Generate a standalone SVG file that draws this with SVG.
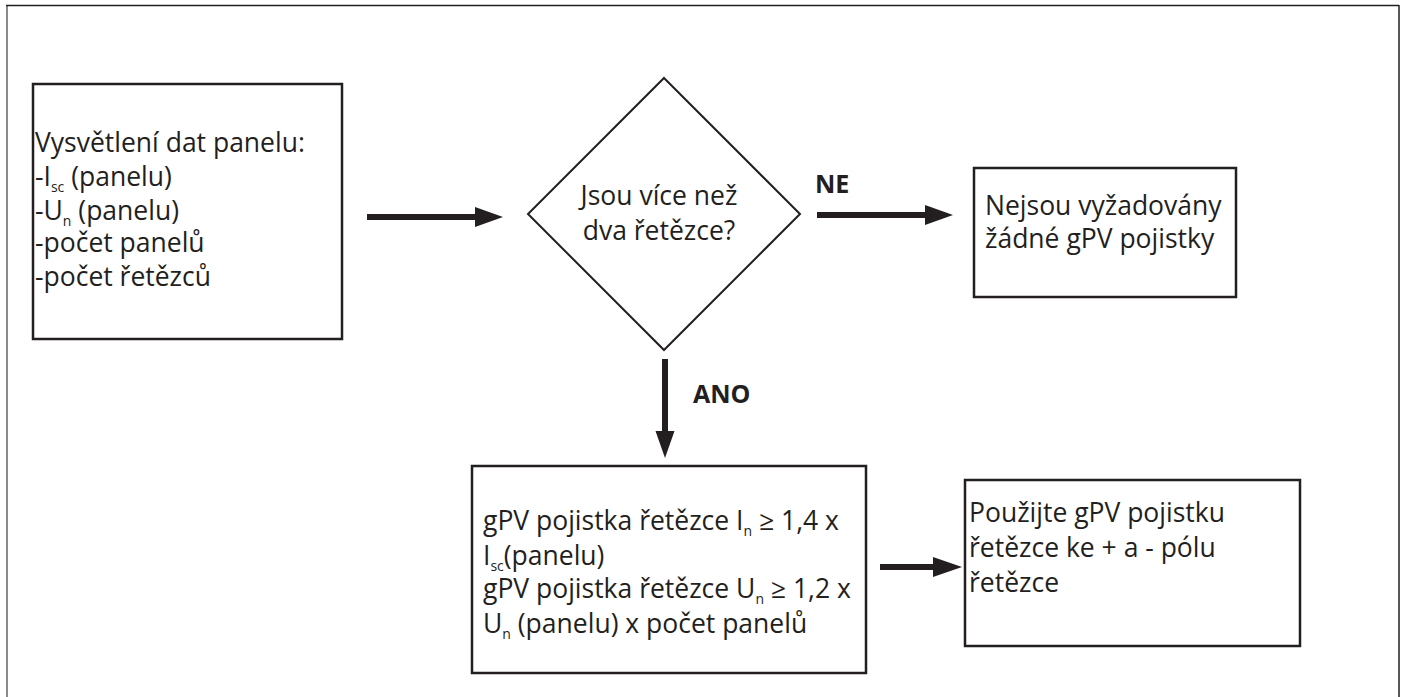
<svg xmlns="http://www.w3.org/2000/svg" width="1401" height="697" viewBox="0 0 1401 697">
<style>
.box{fill:#fff;stroke:#231f20;stroke-width:2.5}
.dia{fill:#fff;stroke:#231f20;stroke-width:2}
.t{font-family:"Open Sans","Noto Sans",sans-serif;font-size:26.5px;fill:#231f20}
.b{font-family:"Open Sans","Noto Sans",sans-serif;font-size:25px;font-weight:bold;fill:#231f20}
.sub{font-size:14px}
.con{stroke:#231f20;stroke-width:6;fill:none}
.head{fill:#231f20}
</style>
<rect width="1401" height="697" fill="#fff"/>
<g id="frame">
<line x1="7" y1="5" x2="7" y2="697" stroke="#8a8a8a" stroke-width="2"/>
<line x1="6" y1="5.5" x2="1399" y2="5.5" stroke="#231f20" stroke-width="1.5"/>
<line x1="1399" y1="5" x2="1399" y2="697" stroke="#231f20" stroke-width="1.5"/>
</g>
<g id="input">
<rect class="box" x="33" y="84" width="309" height="255"/>
<text class="t" x="35" y="152">Vysvětlení dat panelu:</text>
<text class="t" x="35" y="186">-I<tspan class="sub" dy="6">sc</tspan><tspan dy="-6"> (panelu)</tspan></text>
<text class="t" x="35" y="220">-U<tspan class="sub" dy="6">n</tspan><tspan dy="-6"> (panelu)</tspan></text>
<text class="t" x="35" y="252">-počet panelů</text>
<text class="t" x="35" y="286">-počet řetězců</text>
</g>
<g id="decision">
<polygon class="dia" points="664,78 800,214 664,350 528,214"/>
<text class="t" x="659" y="205" text-anchor="middle">Jsou více než</text>
<text class="t" x="659" y="240" text-anchor="middle">dva řetězce?</text>
</g>
<g id="nofuse">
<rect class="box" x="974" y="168" width="262" height="129"/>
<text class="t" x="985" y="215">Nejsou vyžadovány</text>
<text class="t" x="985" y="248">žádné gPV pojistky</text>
</g>
<g id="rating">
<rect class="box" x="472" y="466" width="394" height="207"/>
<text class="t" x="483" y="530">gPV pojistka řetězce I<tspan class="sub" dy="6">n</tspan><tspan dy="-6"> ≥ 1,4 x</tspan></text>
<text class="t" x="483" y="565">I<tspan class="sub" dy="6">sc</tspan><tspan dy="-6">(panelu)</tspan></text>
<text class="t" x="483" y="598">gPV pojistka řetězce U<tspan class="sub" dy="6">n</tspan><tspan dy="-6"> ≥ 1,2 x</tspan></text>
<text class="t" x="483" y="633">U<tspan class="sub" dy="6">n</tspan><tspan dy="-6"> (panelu) x počet panelů</tspan></text>
</g>
<g id="use">
<rect class="box" x="965" y="480" width="335" height="166"/>
<text class="t" x="969" y="522">Použijte gPV pojistku</text>
<text class="t" x="969" y="557">řetězce ke + a - pólu</text>
<text class="t" x="969" y="592">řetězce</text>
</g>
<g id="connectors">
<line class="con" x1="367" y1="217" x2="477" y2="217"/>
<polygon class="head" points="475,207 503,217 475,227"/>
<line class="con" x1="817" y1="215" x2="927" y2="215"/>
<polygon class="head" points="925,205 953,215 925,225"/>
<text class="b" x="815" y="193">NE</text>
<line class="con" x1="665" y1="359" x2="665" y2="433" stroke-width="5"/>
<polygon class="head" points="655.5,431 674.5,431 665,458"/>
<text class="b" x="693" y="403">ANO</text>
<line class="con" x1="880" y1="567" x2="935" y2="567"/>
<polygon class="head" points="933,557 962,567 933,577"/>
</g>
</svg>
